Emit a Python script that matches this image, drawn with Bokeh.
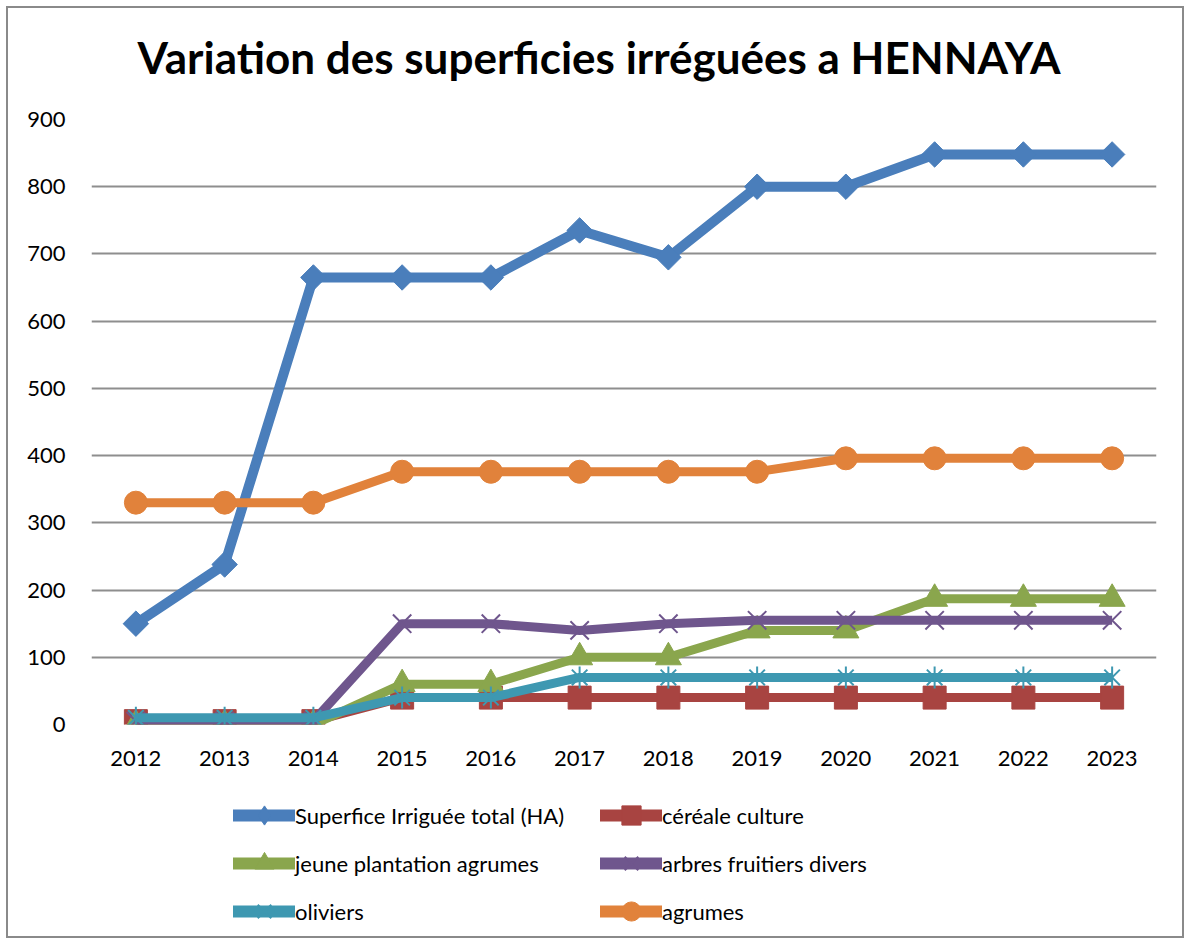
from bokeh.plotting import figure
from bokeh.models import Legend, LegendItem, FactorRange, Range1d, Title
from bokeh.layouts import column
from bokeh.embed import file_html
from bokeh.resources import INLINE

years = ["2012", "2013", "2014", "2015", "2016", "2017", "2018", "2019", "2020", "2021", "2022", "2023"]
total = [150, 238, 665, 665, 665, 735, 695, 800, 800, 848, 848, 848]
cereale = [5, 5, 5, 40, 40, 40, 40, 40, 40, 40, 40, 40]
jeune = [0, 0, 0, 60, 60, 100, 100, 140, 140, 187, 187, 187]
arbres = [5, 5, 5, 150, 150, 140, 150, 155, 155, 155, 155, 155]
oliviers = [10, 10, 10, 40, 40, 70, 70, 70, 70, 70, 70, 70]
agrumes = [330, 330, 330, 376, 376, 376, 376, 376, 396, 396, 396, 396]

names = ["Superfice Irriguée total (HA)", "céréale culture", "jeune plantation agrumes",
         "arbres fruitiers divers", "oliviers", "agrumes"]
y_ticks = [0, 100, 200, 300, 400, 500, 600, 700, 800, 900]
title_text = "Variation des superficies irréguées a HENNAYA"

FONT = "Lato"
W = 1174

p = figure(width=W, height=770, x_range=FactorRange(*years, range_padding=0),
           y_range=Range1d(0, 900), output_backend="svg", toolbar_location=None,
           min_border_left=83, min_border_right=26, min_border_top=111, min_border_bottom=54)
p.outline_line_color = None

# spacer between title and frame
p.add_layout(Title(text=" ", text_font_size="1px", standoff=34), "above")

p.title.text = title_text
p.title.text_font = FONT
p.title.text_font_size = "44px"
p.title.text_font_style = "bold"
p.title.align = "left"
p.title.offset = 46
p.title.text_color = "black"
p.title.standoff = 0

p.xgrid.grid_line_color = None
p.ygrid.grid_line_color = "#8e8e8e"
p.ygrid.grid_line_width = 2
p.yaxis.ticker = y_ticks
for ax in (p.xaxis[0], p.yaxis[0]):
    ax.axis_line_color = None
    ax.major_tick_line_color = None
    ax.minor_tick_line_color = None
    ax.major_label_text_font = FONT
    ax.major_label_text_font_size = "22px"
    ax.major_label_text_color = "black"
p.yaxis.major_label_standoff = 20
p.xaxis.major_label_standoff = 20

series = [
    (total, "#4A7EBB", "square", 18, 10, 0.785398),
    (cereale, "#A84441", "square", 23, 9, 0.0),
    (jeune, "#8AA64D", "triangle", 26, 9, 0.0),
    (arbres, "#6F568D", "x", 26, 9, 0.0),
    (oliviers, "#3E98B1", "x", 22, 9, 0.0),
    (agrumes, "#E1823B", "circle", 23, 9, 0.0),
]


def draw(fig, xs, ys, col, mk, sz, lw, ang, idx, cap="butt"):
    rs = [fig.line(xs, ys, line_color=col, line_width=lw, line_join="round", line_cap=cap)]
    if mk == "x":
        rs.append(fig.scatter(xs, ys, marker="x", size=sz, line_color=col, line_width=2))
        if idx == 4:
            rs.append(fig.scatter(xs, ys, marker="dash", angle=1.5708, size=sz, line_color=col, line_width=2))
    else:
        rs.append(fig.scatter(xs, ys, marker=mk, size=sz, angle=ang, fill_color=col, line_color=col))
    return rs


for i, (vals, col, mk, sz, lw, ang) in enumerate(series):
    draw(p, years, vals, col, mk, sz, lw, ang, i)

# legend figure: same series drawn out of view, only the legend is visible
q = figure(width=W, height=158, x_range=FactorRange(*years), y_range=Range1d(5000, 6000),
           output_backend="svg", toolbar_location=None,
           min_border_left=0, min_border_right=0, min_border_top=0, min_border_bottom=0)
q.axis.visible = False
q.grid.grid_line_color = None
q.outline_line_color = None

legend_rs = []
for i, (vals, col, mk, sz, lw, ang) in enumerate(series):
    lmk = "diamond" if i == 0 else mk
    legend_rs.append(draw(q, years, vals, col, lmk, sz, 12, 0.0, i, cap="round"))

order = [0, 2, 4, 1, 3, 5]
items = [LegendItem(label=names[i], renderers=legend_rs[i]) for i in order]

legend = Legend(items=items, ncols=2, orientation="vertical", location=(142, 1),
                label_text_font=FONT, label_text_font_size="22px", label_text_color="black",
                glyph_width=62, glyph_height=48, label_standoff=0, spacing=0, padding=0,
                margin=0, border_line_color=None, background_fill_alpha=0,
                label_height=48, label_width=305)
q.add_layout(legend, "center")

layout = column(p, q, spacing=0)
layout.styles = {"border": "2px solid #8a8a8a", "margin-left": "6px", "margin-top": "6px"}

open("out.html", "w").write(file_html(layout, INLINE))
